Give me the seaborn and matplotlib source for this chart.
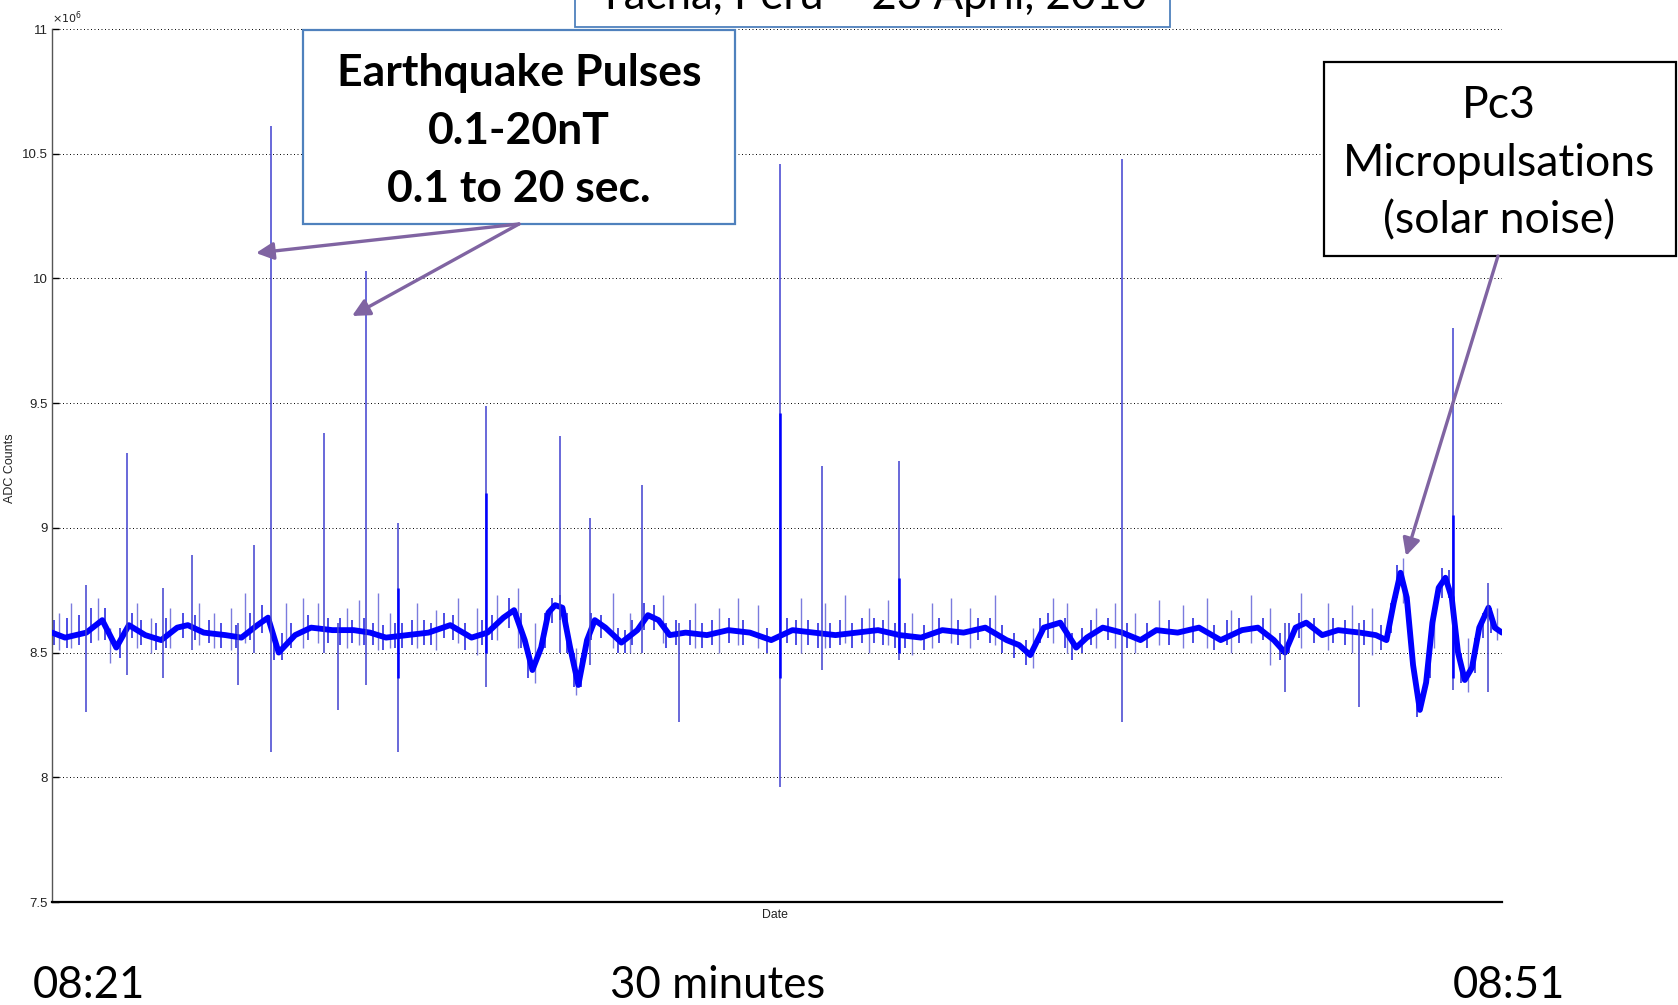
import numpy as np
import pandas as pd
import seaborn as sns
import matplotlib
matplotlib.use("Agg")
import matplotlib.pyplot as plt
from matplotlib.patches import Rectangle, FancyArrowPatch

# ---------------- data (time in minutes from 08:21, counts in units of 1e6) -------------
base_t = [0, 0.27, 0.49, 0.71, 1.04, 1.33, 1.59, 1.93, 2.26, 2.59, 2.81, 3.14, 3.59, 3.92,
          4.25, 4.47, 4.69, 5.03, 5.36, 5.80, 6.24, 6.58, 6.91, 7.35, 7.79, 8.24, 8.68, 9.01,
          9.34, 9.56, 9.78, 9.94, 10.12, 10.27, 10.41, 10.56, 10.72, 10.89, 11.07, 11.23,
          11.45, 11.78, 12.11, 12.33, 12.55, 12.78, 13.11, 13.55, 13.99, 14.44, 14.88, 15.32,
          15.76, 16.21, 16.65, 17.09, 17.54, 17.98, 18.42, 18.86, 19.31, 19.75, 20.01, 20.24,
          20.52, 20.86, 21.19, 21.41, 21.74, 22.14, 22.52, 22.85, 23.29, 23.73, 24.18, 24.62,
          24.95, 25.28, 25.51, 25.73, 25.95, 26.28, 26.61, 27.06, 27.39, 27.61, 27.76, 27.90,
          28.03, 28.16, 28.30, 28.43, 28.56, 28.69, 28.83, 28.96, 29.09, 29.23, 29.38, 29.53,
          29.72, 29.85, 30.0]
base_v = [8.58, 8.56, 8.57, 8.58, 8.63, 8.52, 8.61, 8.57, 8.55, 8.60, 8.61, 8.58, 8.57, 8.56,
          8.61, 8.64, 8.50, 8.57, 8.60, 8.59, 8.59, 8.58, 8.56, 8.57, 8.58, 8.61, 8.56, 8.58,
          8.64, 8.67, 8.55, 8.43, 8.52, 8.66, 8.69, 8.68, 8.52, 8.37, 8.55, 8.63,
          8.60, 8.54, 8.59, 8.65, 8.63, 8.57, 8.58, 8.57, 8.59, 8.58, 8.55, 8.59,
          8.58, 8.57, 8.58, 8.59, 8.57, 8.56, 8.59, 8.58, 8.60, 8.55, 8.53, 8.49,
          8.60, 8.62, 8.52, 8.56, 8.60, 8.58, 8.55, 8.59, 8.58, 8.60, 8.55, 8.59,
          8.60, 8.55, 8.50, 8.60, 8.62, 8.57, 8.59, 8.58, 8.57, 8.55, 8.70, 8.82,
          8.72, 8.45, 8.27, 8.38, 8.62, 8.76, 8.80, 8.72, 8.50, 8.39, 8.44, 8.60,
          8.68, 8.60, 8.58]

# large pulses: time, max, min
spike_t = [0.71, 1.55, 2.30, 2.90, 3.85, 4.18, 4.54, 5.62, 5.91, 6.49, 7.15, 8.97, 10.52,
           11.14, 12.20, 12.97, 15.06, 15.94, 17.53, 22.14, 25.50, 27.05, 28.98, 29.70]
spike_hi = [8.77, 9.30, 8.76, 8.89, 8.62, 8.93, 10.61, 9.38, 8.62, 10.03, 9.02, 9.49, 9.37,
            9.04, 9.17, 8.62, 10.46, 9.25, 9.27, 10.48, 8.62, 8.62, 9.80, 8.78]
spike_lo = [8.26, 8.41, 8.40, 8.51, 8.37, 8.50, 8.10, 8.50, 8.27, 8.37, 8.10, 8.36, 8.50,
            8.45, 8.50, 8.22, 7.96, 8.43, 8.47, 8.22, 8.34, 8.28, 8.35, 8.34]
# denser part of some pulses
core_t = [7.15, 8.97, 15.06, 17.53, 28.98]
core_hi = [8.76, 9.14, 9.46, 8.80, 9.05]
core_lo = [8.40, 8.50, 8.40, 8.50, 8.40]

# small noise excursions
minor_t = [0.15, 0.4, 0.95, 1.2, 1.75, 2.05, 2.45, 3.05, 3.35, 3.7, 4.0, 4.85, 5.2, 5.5, 6.1,
           6.35, 6.75, 7.0, 7.55, 7.95, 8.4, 8.8, 9.2, 9.65, 10.0, 10.85, 11.6, 11.95, 12.65,
           13.3, 13.8, 14.2, 14.6, 15.5, 16.0, 16.4, 16.9, 17.3, 17.8, 18.2, 18.6, 19.0, 19.5,
           20.3, 20.7, 21.0, 21.6, 22.0, 22.4, 22.9, 23.4, 23.9, 24.4, 24.8, 25.2, 25.85, 26.4,
           26.9, 27.3, 27.95, 28.6, 29.3, 29.9]
minor_hi = [8.66, 8.70, 8.72, 8.60, 8.70, 8.64, 8.68, 8.70, 8.66, 8.68, 8.74, 8.70, 8.72, 8.70,
            8.68, 8.71, 8.74, 8.66, 8.70, 8.67, 8.72, 8.68, 8.73, 8.76, 8.62, 8.52, 8.74, 8.66,
            8.73, 8.70, 8.68, 8.72, 8.69, 8.72, 8.70, 8.73, 8.68, 8.71, 8.66, 8.70, 8.72, 8.68,
            8.73, 8.60, 8.72, 8.70, 8.68, 8.70, 8.66, 8.71, 8.69, 8.72, 8.67, 8.73, 8.68, 8.74,
            8.70, 8.69, 8.68, 8.88, 8.70, 8.56, 8.68]
minor_lo = [8.51, 8.52, 8.55, 8.46, 8.52, 8.50, 8.52, 8.53, 8.52, 8.51, 8.54, 8.53, 8.52, 8.54,
            8.52, 8.53, 8.51, 8.52, 8.52, 8.51, 8.54, 8.49, 8.55, 8.52, 8.38, 8.33, 8.52, 8.50,
            8.54, 8.52, 8.50, 8.53, 8.52, 8.50, 8.52, 8.54, 8.50, 8.53, 8.49, 8.52, 8.54, 8.52,
            8.53, 8.44, 8.54, 8.50, 8.52, 8.52, 8.50, 8.53, 8.52, 8.52, 8.50, 8.54, 8.45, 8.52,
            8.51, 8.50, 8.49, 8.70, 8.52, 8.34, 8.55]

# fine ripple of the trace
ripple_t = [0.05, 0.3, 0.55, 0.8, 1.1, 1.4, 1.65, 1.85, 2.15, 2.35, 2.7, 2.95, 3.25, 3.5, 3.8,
            4.1, 4.35, 4.6, 4.75, 4.95, 5.3, 5.7, 5.95, 6.2, 6.45, 6.65, 6.85, 7.1, 7.25, 7.45,
            7.7, 7.85, 8.1, 8.3, 8.55, 8.9, 9.1, 9.45, 9.7, 9.85, 10.2, 10.35, 10.5, 10.65,
            10.8, 10.95, 11.15, 11.35, 11.7, 11.85, 12.0, 12.25, 12.45, 12.7, 12.9, 13.2, 13.45,
            13.65, 14.0, 14.3, 14.8, 15.2, 15.4, 15.65, 15.85, 16.1, 16.3, 16.55, 16.75, 17.0,
            17.2, 17.45, 17.65, 18.05, 18.35, 18.75, 19.15, 19.4, 19.65, 19.9, 20.15, 20.45,
            20.6, 20.95, 21.1, 21.3, 21.5, 21.85, 22.25, 22.65, 23.1, 23.6, 24.05, 24.3, 24.55,
            25.05, 25.4, 25.6, 25.8, 26.1, 26.5, 26.75, 27.15, 27.5, 27.7, 27.83, 28.1, 28.25,
            28.5, 28.75, 28.9, 29.15, 29.45, 29.6, 29.78]
ripple_hi = [8.63, 8.64, 8.65, 8.68, 8.68, 8.60, 8.66, 8.63, 8.62, 8.64, 8.66, 8.65, 8.63, 8.62,
             8.61, 8.66, 8.69, 8.58, 8.58, 8.62, 8.65, 8.64, 8.64, 8.63, 8.64, 8.62, 8.61, 8.62,
             8.62, 8.63, 8.63, 8.62, 8.66, 8.65, 8.62, 8.63, 8.65, 8.72, 8.66, 8.52, 8.66, 8.72,
             8.73, 8.66, 8.50, 8.48, 8.66, 8.65, 8.60, 8.59, 8.63, 8.70, 8.69, 8.62, 8.63, 8.63,
             8.62, 8.63, 8.64, 8.63, 8.60, 8.64, 8.63, 8.63, 8.62, 8.62, 8.63, 8.62, 8.64, 8.64,
             8.63, 8.62, 8.62, 8.61, 8.64, 8.63, 8.64, 8.64, 8.61, 8.58, 8.55, 8.64, 8.66, 8.64,
             8.58, 8.60, 8.63, 8.64, 8.62, 8.62, 8.63, 8.64, 8.61, 8.63, 8.64, 8.64, 8.58, 8.62,
             8.66, 8.64, 8.64, 8.63, 8.63, 8.61, 8.70, 8.85, 8.64, 8.40, 8.55, 8.84, 8.83, 8.50,
             8.56, 8.66, 8.68]
ripple_lo = [8.53, 8.52, 8.53, 8.54, 8.55, 8.48, 8.56, 8.53, 8.51, 8.52, 8.56, 8.55, 8.54, 8.52,
             8.52, 8.55, 8.58, 8.47, 8.47, 8.52, 8.55, 8.54, 8.53, 8.54, 8.53, 8.53, 8.51, 8.52,
             8.52, 8.53, 8.53, 8.53, 8.56, 8.55, 8.51, 8.53, 8.55, 8.60, 8.52, 8.40, 8.52, 8.62,
             8.63, 8.50, 8.36, 8.36, 8.55, 8.56, 8.50, 8.50, 8.53, 8.59, 8.59, 8.52, 8.53, 8.53,
             8.52, 8.53, 8.54, 8.53, 8.50, 8.54, 8.53, 8.53, 8.52, 8.52, 8.53, 8.52, 8.54, 8.54,
             8.53, 8.52, 8.52, 8.51, 8.54, 8.53, 8.55, 8.54, 8.50, 8.48, 8.45, 8.54, 8.56, 8.52,
             8.47, 8.50, 8.53, 8.55, 8.52, 8.52, 8.53, 8.54, 8.51, 8.53, 8.54, 8.55, 8.47, 8.50,
             8.56, 8.54, 8.54, 8.53, 8.53, 8.51, 8.58, 8.72, 8.50, 8.24, 8.40, 8.72, 8.72, 8.38,
             8.42, 8.56, 8.58]

y_ticks = [7.5, 8, 8.5, 9, 9.5, 10, 10.5, 11]
y_tick_labels = ["7.5", "8", "8.5", "9", "9.5", "10", "10.5", "11"]

title_text = "Tacna, Peru \u2013 23 April, 2010"
eq_lines = ["Earthquake Pulses", "0.1-20nT", "0.1 to 20 sec."]
pc3_lines = ["Pc3", "Micropulsations", "(solar noise)"]
bottom_labels = ["08:21", "30 minutes", "08:51"]

# ---------------- figure -------------
sns.set_theme(style="white")
plt.rcParams["font.family"] = ["Liberation Sans", "DejaVu Sans"]

W, H = 1678, 1005
fig = plt.figure(figsize=(W / 100, H / 100), dpi=100)
L, R, T, B = 52, 1502, 29, 902
ax = fig.add_axes([L / W, 1 - B / H, (R - L) / W, (B - T) / H])

df = pd.DataFrame({"t": base_t, "v": base_v})
ax.vlines(minor_t, minor_lo, minor_hi, color="#5a5ad6", lw=1.0, alpha=0.8, zorder=2)
ax.vlines(ripple_t, ripple_lo, ripple_hi, color="#2a2ae0", lw=1.3, alpha=0.9, zorder=2)
sns.lineplot(data=df, x="t", y="v", ax=ax, color="#0000ff", lw=4.2, zorder=3)
ax.vlines(spike_t, spike_lo, spike_hi, color="#4040d0", lw=1.1, zorder=4)
ax.vlines(core_t, core_lo, core_hi, color="#0000ff", lw=1.8, zorder=4)

ax.set_xlim(0, 30)
ax.set_ylim(7.5, 11)
ax.set_yticks(y_ticks)
ax.set_yticklabels(y_tick_labels)
ax.set_xticks([])
ax.tick_params(axis="y", direction="in", length=5, width=1, labelsize=9.5, pad=3,
               colors="black", left=True)
for lab in ax.get_yticklabels():
    lab.set_color("#222222")
ax.yaxis.grid(True, color="black", lw=0.7, linestyle=(0, (1, 2.6)))
ax.xaxis.grid(False)
for s in ["top", "right"]:
    ax.spines[s].set_visible(False)
ax.spines["left"].set_color("#555555")
ax.spines["left"].set_linewidth(1.0)
ax.spines["bottom"].set_color("black")
ax.spines["bottom"].set_linewidth(1.6)
ax.set_xlabel("Date", fontsize=8.8, color="#222222")
ax.xaxis.set_label_coords(0.4986, -0.008)
ax.set_ylabel("ADC Counts", fontsize=9, color="#222222")
ax.yaxis.set_label_coords(-0.0245, 0.497)
ax.text(0.0, 1.003, r"$\times10^{6}$", transform=ax.transAxes, fontsize=8,
        ha="left", va="bottom", color="#222222")

# ---------------- annotations (figure pixels, y from top) -------------
def fx(x):
    return x / W

def fy(y):
    return 1 - y / H

ANN = ["Lato", "DejaVu Sans"]

# title box (partially cut off at top)
fig.add_artist(Rectangle((fx(575), fy(27)), (1170 - 575) / W, 60 / H, transform=fig.transFigure,
                         facecolor="white", edgecolor="#4f81bd", lw=1.3, zorder=5))
fig.text(fx(872), fy(9), title_text, ha="center", va="baseline", fontsize=31.5,
         family=ANN, color="black", zorder=6)

# earthquake box
fig.add_artist(Rectangle((fx(303), fy(224)), (735 - 303) / W, (224 - 30) / H,
                         transform=fig.transFigure, facecolor="white", edgecolor="#4f81bd",
                         lw=1.6, zorder=5))
for line, yy in zip(eq_lines, [69.6, 127.4, 185.1]):
    fig.text(fx(519), fy(yy), line, ha="center", va="center_baseline", fontsize=32,
             fontweight="bold", family=ANN, color="black", zorder=6)

# Pc3 box
fig.add_artist(Rectangle((fx(1324), fy(256)), (1676 - 1324) / W, (256 - 62) / H,
                         transform=fig.transFigure, facecolor="white", edgecolor="black",
                         lw=1.6, zorder=5))
for line, yy in zip(pc3_lines, [101.7, 159.5, 217.3]):
    fig.text(fx(1499), fy(yy), line, ha="center", va="center_baseline", fontsize=32,
             family=ANN, color="black", zorder=6)

# arrows
arrow_col = "#8064a2"
for (x0, y0), (x1, y1) in [((519, 224), (256, 253)), ((519, 224), (352, 316)),
                           ((1498, 256), (1406, 556))]:
    fig.add_artist(FancyArrowPatch((fx(x0), fy(y0)), (fx(x1), fy(y1)),
                                   transform=fig.transFigure, arrowstyle="-|>",
                                   mutation_scale=26, color=arrow_col, lw=2.4,
                                   shrinkA=0, shrinkB=0, zorder=7))

# bottom labels
for lab, xx in zip(bottom_labels, [89, 718, 1509]):
    fig.text(fx(xx), fy(981), lab, ha="center", va="center_baseline", fontsize=31.5,
             family=ANN, color="black")

fig.savefig("out.png", dpi=100)
